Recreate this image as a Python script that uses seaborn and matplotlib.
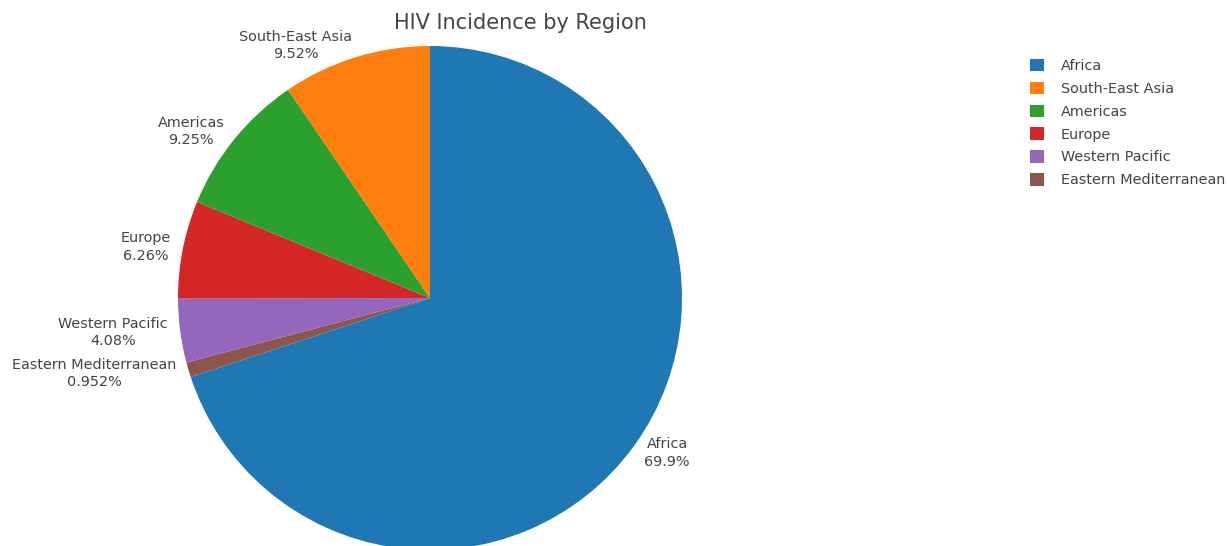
import matplotlib
matplotlib.use("Agg")
import matplotlib.pyplot as plt
from matplotlib.patches import Patch
import seaborn as sns

sns.set_theme(style="white")
plt.rcParams["font.family"] = ["DejaVu Sans"]

# Regional share of HIV incidence (percent)
regions = ["Africa", "South-East Asia", "Americas", "Europe",
           "Western Pacific", "Eastern Mediterranean"]
shares = [69.9, 9.52, 9.25, 6.26, 4.08, 0.952]
title = "HIV Incidence by Region"

palette = sns.color_palette("tab10", len(regions))
colors = dict(zip(regions, palette))

# Wedges go clockwise from 12 o'clock: Africa first, then the smallest regions
draw_order = ["Africa", "Eastern Mediterranean", "Western Pacific",
              "Europe", "Americas", "South-East Asia"]
vals = [shares[regions.index(r)] for r in draw_order]
total = sum(vals)
labels = [f"{r}\n{v / total * 100:.3g}%" for r, v in zip(draw_order, vals)]

TEXT = "#444444"
fig = plt.figure(figsize=(12.28, 5.46), dpi=100)
ax = fig.add_axes([178 / 1228, (546 - 550) / 546, 504 / 1228, 504 / 546])

wedges, texts = ax.pie(
    vals, labels=labels, colors=[colors[r] for r in draw_order],
    startangle=90, counterclock=False, labeldistance=1.05,
    wedgeprops=dict(linewidth=0),
    textprops=dict(fontsize=10.4, color=TEXT, linespacing=1.3),
)
for t in texts:
    t.set_multialignment("center")
ax.set_xlim(-1, 1)
ax.set_ylim(-1, 1)
ax.set_aspect("equal")
ax.axis("off")

fig.text(520 / 1228, 1 - 23 / 546, title, ha="center", va="center",
         fontsize=15, color=TEXT)

handles = [Patch(facecolor=colors[r], edgecolor="none") for r in regions]
fig.legend(handles, regions, loc="upper left",
           bbox_to_anchor=(1024 / 1228, 1 - 53 / 546), frameon=False,
           fontsize=10.4, labelcolor=TEXT, handlelength=0.95, handleheight=0.95,
           handletextpad=1.2, labelspacing=0.6, borderaxespad=0)

fig.savefig("out.png", dpi=100, facecolor="white")
